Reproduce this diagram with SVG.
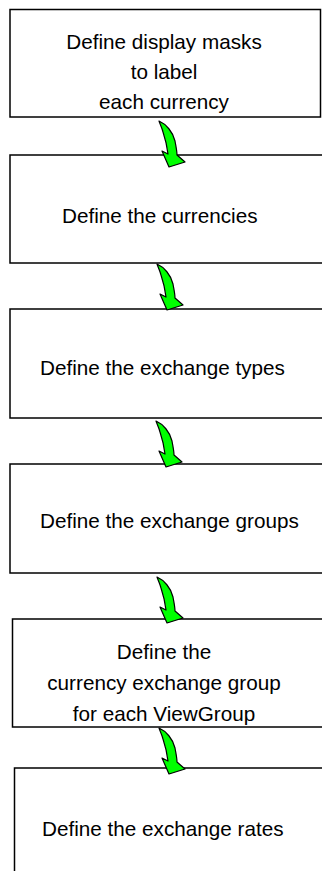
<svg xmlns="http://www.w3.org/2000/svg" width="322" height="871" viewBox="0 0 322 871">
<style>
.box{fill:#fff;stroke:#000;stroke-width:1.5}
.t{font-family:"Liberation Sans",Arial,sans-serif;font-size:20.7px;fill:#000}
.c{text-anchor:middle}
.arr{fill:#00ff00;stroke:#000;stroke-width:1.2;stroke-linejoin:round}
</style>
<defs>
<path id="ca" class="arr" d="M0,0 C7,3 14,11 16,20 C17,26 18,30 18,34 L26,41 L10,46 L3,30 L9,33 C8,25 6,17 4,11 C3,7 1,3 0,0 Z"/>
</defs>
<rect x="0" y="0" width="322" height="871" fill="#fff"/>
<g id="n1">
<rect class="box" x="10" y="9.5" width="310.5" height="107.5"/>
<text class="t c" x="164" y="49">Define display masks</text>
<text class="t c" x="164" y="79">to label</text>
<text class="t c" x="164" y="109">each currency</text>
</g>
<g id="n2">
<rect class="box" x="10" y="155" width="330" height="108"/>
<text class="t" x="62" y="223">Define the currencies</text>
</g>
<g id="n3">
<rect class="box" x="10" y="309" width="330" height="109"/>
<text class="t" x="40" y="375">Define the exchange types</text>
</g>
<g id="n4">
<rect class="box" x="10" y="464" width="330" height="109"/>
<text class="t" x="40" y="528">Define the exchange groups</text>
</g>
<g id="n5">
<rect class="box" x="12.5" y="619" width="330" height="108"/>
<text class="t c" x="164" y="659">Define the</text>
<text class="t c" x="164" y="690">currency exchange group</text>
<text class="t c" x="164" y="721">for each ViewGroup</text>
</g>
<g id="n6">
<rect class="box" x="14.5" y="768" width="330" height="120"/>
<text class="t" x="42" y="836">Define the exchange rates</text>
</g>
<g id="connectors">
<use href="#ca" transform="translate(159,121)"/>
<use href="#ca" transform="translate(157,264)"/>
<use href="#ca" transform="translate(156,421)"/>
<use href="#ca" transform="translate(157,577)"/>
<use href="#ca" transform="translate(159,728)"/>
</g>
</svg>
